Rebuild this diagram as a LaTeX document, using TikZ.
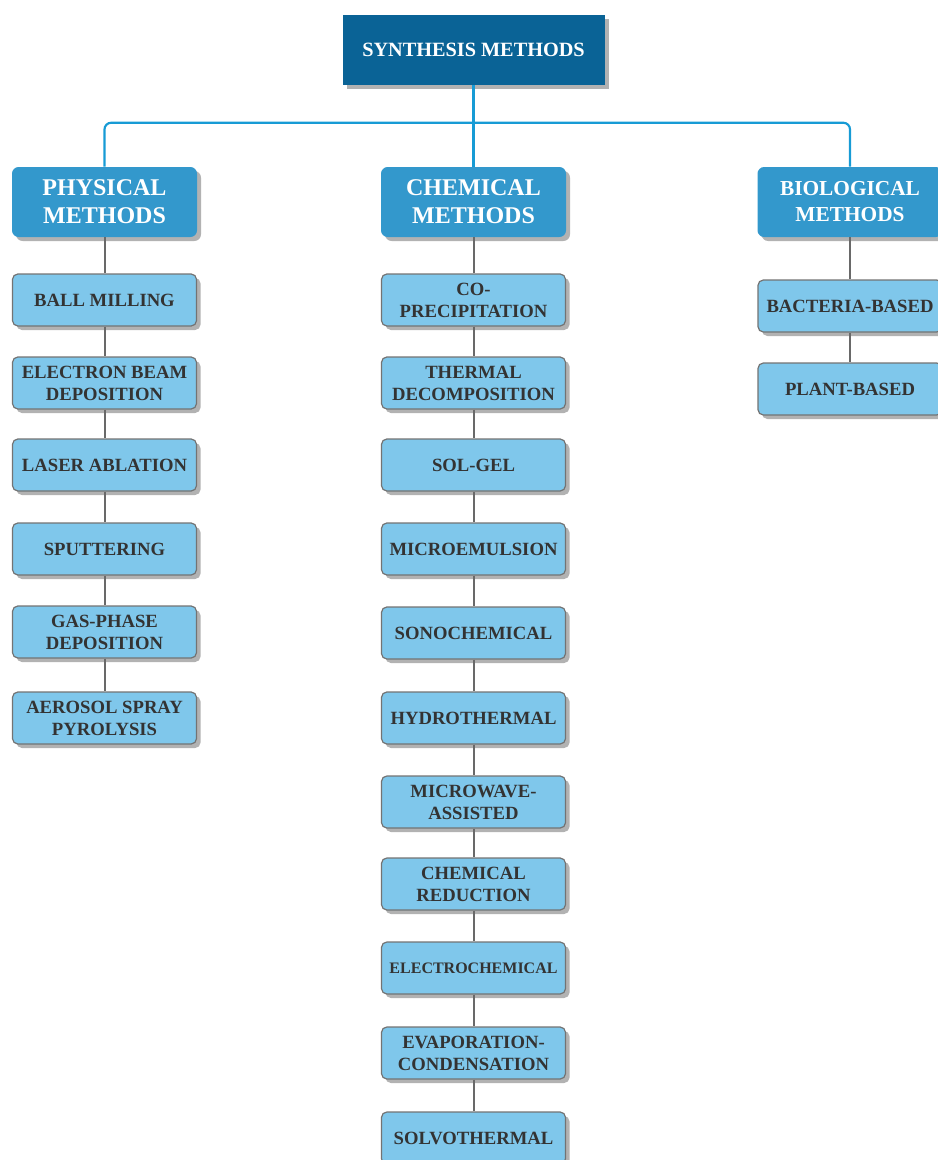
\documentclass[tikz,border=0pt]{standalone}
\usepackage{fontspec}
\setmainfont{Liberation Serif}
\usetikzlibrary{shadows}
\definecolor{rootblue}{RGB}{10,99,150}
\definecolor{headblue}{RGB}{51,152,204}
\definecolor{childblue}{RGB}{127,199,235}
\definecolor{bordergray}{RGB}{115,115,115}
\definecolor{darktext}{RGB}{51,51,51}
\definecolor{linkblue}{RGB}{23,155,213}
\definecolor{linkgray}{RGB}{105,105,105}
\tikzset{
  shade/.style={drop shadow={shadow xshift=3pt,shadow yshift=-3pt,opacity=0.3,fill=black}},
  rootbox/.style={shade,fill=rootblue,text=white,minimum width=262*0.75pt,minimum height=70*0.75pt,
    font=\fontsize{15.2}{18}\selectfont\bfseries,inner sep=0pt},
  headbox/.style={shade,fill=headblue,text=white,rounded corners=5pt,minimum width=185*0.75pt,minimum height=70*0.75pt,
    font=\fontsize{18}{21}\selectfont\bfseries,align=center,inner sep=0pt},
  childbox/.style={shade,fill=childblue,draw=bordergray,line width=0.9pt,text=darktext,rounded corners=4pt,
    minimum width=184*0.75pt,minimum height=52*0.75pt,
    font=\fontsize{14}{16.5}\selectfont\bfseries,align=center,inner sep=0pt},
  bline/.style={draw=linkblue,line width=1.6pt},
  gline/.style={draw=linkgray,line width=1.5pt},
}
\begin{document}
\begin{tikzpicture}[x=0.75pt,y=-0.75pt]
\useasboundingbox (0,0) rectangle (938,1160);
\clip (0,0) rectangle (938,1160);
% root
\node[rootbox] (root) at (473.5,50) {SYNTHESIS METHODS};
% headers
\node[headbox] (ph) at (104.5,202) {PHYSICAL\\METHODS};
\node[headbox] (ch) at (473.5,202) {CHEMICAL\\METHODS};
\node[headbox,font=\fontsize{16}{19.5}\selectfont\bfseries] (bi) at (850,202) {BIOLOGICAL\\METHODS};
% physical
\node[childbox] (p1) at (104.5,300) {BALL MILLING};
\node[childbox] (p2) at (104.5,383) {ELECTRON BEAM\\DEPOSITION};
\node[childbox] (p3) at (104.5,465) {LASER ABLATION};
\node[childbox] (p4) at (104.5,549) {SPUTTERING};
\node[childbox] (p5) at (104.5,632) {GAS-PHASE\\DEPOSITION};
\node[childbox] (p6) at (104.5,718) {AEROSOL SPRAY\\PYROLYSIS};
% chemical
\node[childbox] (c1) at (473.5,300) {CO-\\PRECIPITATION};
\node[childbox] (c2) at (473.5,383) {THERMAL\\DECOMPOSITION};
\node[childbox] (c3) at (473.5,465) {SOL-GEL};
\node[childbox] (c4) at (473.5,549) {MICROEMULSION};
\node[childbox] (c5) at (473.5,633) {SONOCHEMICAL};
\node[childbox] (c6) at (473.5,718) {HYDROTHERMAL};
\node[childbox] (c7) at (473.5,802) {MICROWAVE-\\ASSISTED};
\node[childbox] (c8) at (473.5,884) {CHEMICAL\\REDUCTION};
\node[childbox,font=\fontsize{12}{15}\selectfont\bfseries] (c9) at (473.5,968) {ELECTROCHEMICAL};
\node[childbox] (c10) at (473.5,1053) {EVAPORATION-\\CONDENSATION};
\node[childbox] (c11) at (473.5,1138) {SOLVOTHERMAL};
% biological
\node[childbox] (b1) at (850,306) {BACTERIA-BASED};
\node[childbox] (b2) at (850,389) {PLANT-BASED};
% blue links
\draw[bline] (root.south) -- (ch.north);
\draw[bline,rounded corners=5pt] (ph.north) -- ++(0,-44) -| (bi.north);
% gray links
\foreach \a/\b in {ph/p1,p1/p2,p2/p3,p3/p4,p4/p5,p5/p6,
  ch/c1,c1/c2,c2/c3,c3/c4,c4/c5,c5/c6,c6/c7,c7/c8,c8/c9,c9/c10,c10/c11,
  bi/b1,b1/b2}
  \draw[gline] (\a) -- (\b);
\end{tikzpicture}
\end{document}
